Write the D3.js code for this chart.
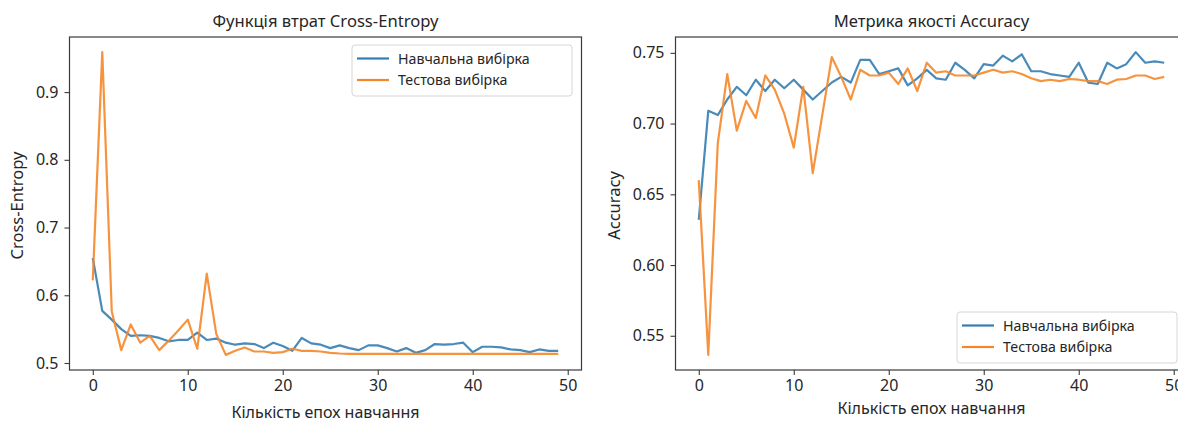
<!DOCTYPE html>
<html>
<head>
<meta charset="utf-8">
<script src="https://cdn.jsdelivr.net/npm/d3@7"></script>
<style>
  html, body { margin: 0; padding: 0; background: #fff; }
  svg { display: block; }
  text { font-family: "Noto Sans", "Open Sans", sans-serif; fill: #262626; }
</style>
</head>
<body>
<svg id="chart" width="1178" height="423"></svg>
<script>
// Epoch indices 0..49
const epochs = d3.range(50);

// Cross-entropy loss per epoch
const lossTrain = [
  0.655, 0.577, 0.564, 0.550, 0.540, 0.541, 0.540, 0.537, 0.532, 0.534,
  0.534, 0.545, 0.534, 0.536, 0.530, 0.527, 0.529, 0.528, 0.522, 0.530,
  0.525, 0.518, 0.537, 0.529, 0.527, 0.522, 0.526, 0.522, 0.519, 0.526,
  0.526, 0.522, 0.517, 0.522, 0.515, 0.519, 0.528, 0.527, 0.528, 0.530,
  0.516, 0.524, 0.524, 0.523, 0.520, 0.519, 0.516, 0.520, 0.518, 0.518
];
const lossTest = [
  0.622, 0.959, 0.576, 0.519, 0.557, 0.530, 0.540, 0.519, 0.533, 0.548,
  0.564, 0.521, 0.632, 0.543, 0.512, 0.518, 0.523, 0.517, 0.517, 0.515,
  0.516, 0.521, 0.518, 0.518, 0.517, 0.515, 0.514, 0.5135, 0.5135, 0.5135,
  0.5135, 0.5135, 0.5135, 0.5135, 0.5135, 0.5135, 0.5135, 0.5135, 0.5135, 0.5135,
  0.5135, 0.5135, 0.5135, 0.5135, 0.5135, 0.5135, 0.5135, 0.5135, 0.5135, 0.5135
];

// Accuracy per epoch
const accTrain = [
  0.632, 0.709, 0.706, 0.717, 0.726, 0.720, 0.731, 0.723, 0.731, 0.725,
  0.731, 0.724, 0.717, 0.723, 0.729, 0.733, 0.729, 0.745, 0.745, 0.735,
  0.737, 0.739, 0.727, 0.732, 0.738, 0.732, 0.731, 0.743, 0.738, 0.732,
  0.742, 0.741, 0.748, 0.744, 0.749, 0.737, 0.737, 0.735, 0.734, 0.733,
  0.743, 0.729, 0.728, 0.743, 0.739, 0.742, 0.7505, 0.743, 0.744, 0.743
];
const accTest = [
  0.660, 0.5365, 0.686, 0.735, 0.695, 0.716, 0.704, 0.734, 0.724, 0.707,
  0.683, 0.726, 0.665, 0.706, 0.747, 0.733, 0.717, 0.738, 0.734, 0.734,
  0.736, 0.728, 0.739, 0.723, 0.743, 0.736, 0.737, 0.734, 0.734, 0.734,
  0.736, 0.738, 0.736, 0.737, 0.735, 0.732, 0.730, 0.731, 0.730, 0.7315,
  0.731, 0.730, 0.730, 0.728, 0.731, 0.7315, 0.734, 0.734, 0.7315, 0.733
];

// Axis ticks and texts
const xTicks = [0, 10, 20, 30, 40, 50];
const lossTicks = [0.5, 0.6, 0.7, 0.8, 0.9];
const accTicks = [0.55, 0.60, 0.65, 0.70, 0.75];
const seriesNames = ["Навчальна вибірка", "Тестова вибірка"];
const colors = ["#347db3", "#f5872a"];

const svg = d3.select("#chart");

function drawPanel(cfg) {
  const g = svg.append("g");
  const x0 = cfg.left, x1 = cfg.left + 512, y0 = 37, y1 = 370;

  // matplotlib-style 5% margins around the data
  const pad = v => {
    const [a, b] = d3.extent(v);
    const m = (b - a) * 0.05;
    return [a - m, b + m];
  };
  const x = d3.scaleLinear().domain([-2.45, 51.45]).range([x0, x1]);
  const y = d3.scaleLinear().domain(pad(cfg.series.flat())).range([y1, y0]);

  // lines
  const line = d3.line().x((d, i) => x(epochs[i])).y(d => y(d));
  cfg.series.forEach((s, k) => {
    g.append("path")
      .datum(s)
      .attr("fill", "none")
      .attr("stroke", colors[k])
      .attr("stroke-width", 2.2)
      .attr("stroke-linejoin", "round")
      .attr("opacity", 0.9)
      .attr("d", line);
  });

  // frame
  g.append("rect")
    .attr("x", x0).attr("y", y0)
    .attr("width", x1 - x0).attr("height", y1 - y0)
    .attr("fill", "none").attr("stroke", "#3a3a3a").attr("stroke-width", 1.2);

  // axes
  const xa = g.append("g").attr("transform", `translate(0,${y1})`)
    .call(d3.axisBottom(x).tickValues(xTicks).tickSize(5).tickPadding(5));
  const ya = g.append("g").attr("transform", `translate(${x0},0)`)
    .call(d3.axisLeft(y).tickValues(cfg.yTicks).tickFormat(d3.format(cfg.fmt)).tickSize(5).tickPadding(6));
  [xa, ya].forEach(a => {
    a.select(".domain").remove();
    a.selectAll(".tick line").attr("stroke", "#3a3a3a").attr("stroke-width", 1.1);
    a.selectAll(".tick text").attr("font-size", 16).attr("fill", "#303030")
      .attr("font-family", "Noto Sans, Open Sans, sans-serif");
  });

  const cx = (x0 + x1) / 2;

  // title and axis labels
  g.append("text").attr("x", cx).attr("y", 27)
    .attr("text-anchor", "middle").attr("font-size", 16.6).text(cfg.title);
  g.append("text").attr("x", cx).attr("y", cfg.xLabelY)
    .attr("text-anchor", "middle").attr("font-size", 16).text("Кількість епох навчання");
  g.append("text")
    .attr("transform", `translate(${cfg.yLabelX},${(y0 + y1) / 2 + 2}) rotate(-90)`)
    .attr("text-anchor", "middle").attr("font-size", 16.5).text(cfg.yLabel);

  // legend
  const L = cfg.legend;
  const lg = g.append("g").attr("transform", `translate(${L.x},${L.y})`);
  lg.append("rect").attr("width", 220).attr("height", 51).attr("rx", 3)
    .attr("fill", "#fff").attr("fill-opacity", 0.85)
    .attr("stroke", "#d6d6d6").attr("stroke-width", 1);
  seriesNames.forEach((n, k) => {
    const yy = 13.5 + k * 21.5;
    lg.append("line").attr("x1", 5).attr("x2", 37).attr("y1", yy).attr("y2", yy)
      .attr("stroke", colors[k]).attr("stroke-width", 2.2);
    lg.append("text").attr("x", 46).attr("y", yy + 5).attr("font-size", 14.2).text(n);
  });
}

drawPanel({
  left: 69.5,
  series: [lossTrain, lossTest],
  yTicks: lossTicks, fmt: ".1f",
  title: "Функція втрат Cross-Entropy",
  yLabel: "Cross-Entropy", yLabelX: 23,
  xLabelY: 418,
  legend: { x: 352, y: 45 }
});

drawPanel({
  left: 675.5,
  series: [accTrain, accTest],
  yTicks: accTicks, fmt: ".2f",
  title: "Метрика якості Accuracy",
  yLabel: "Accuracy", yLabelX: 620,
  xLabelY: 414,
  legend: { x: 957, y: 312 }
});
</script>
</body>
</html>
